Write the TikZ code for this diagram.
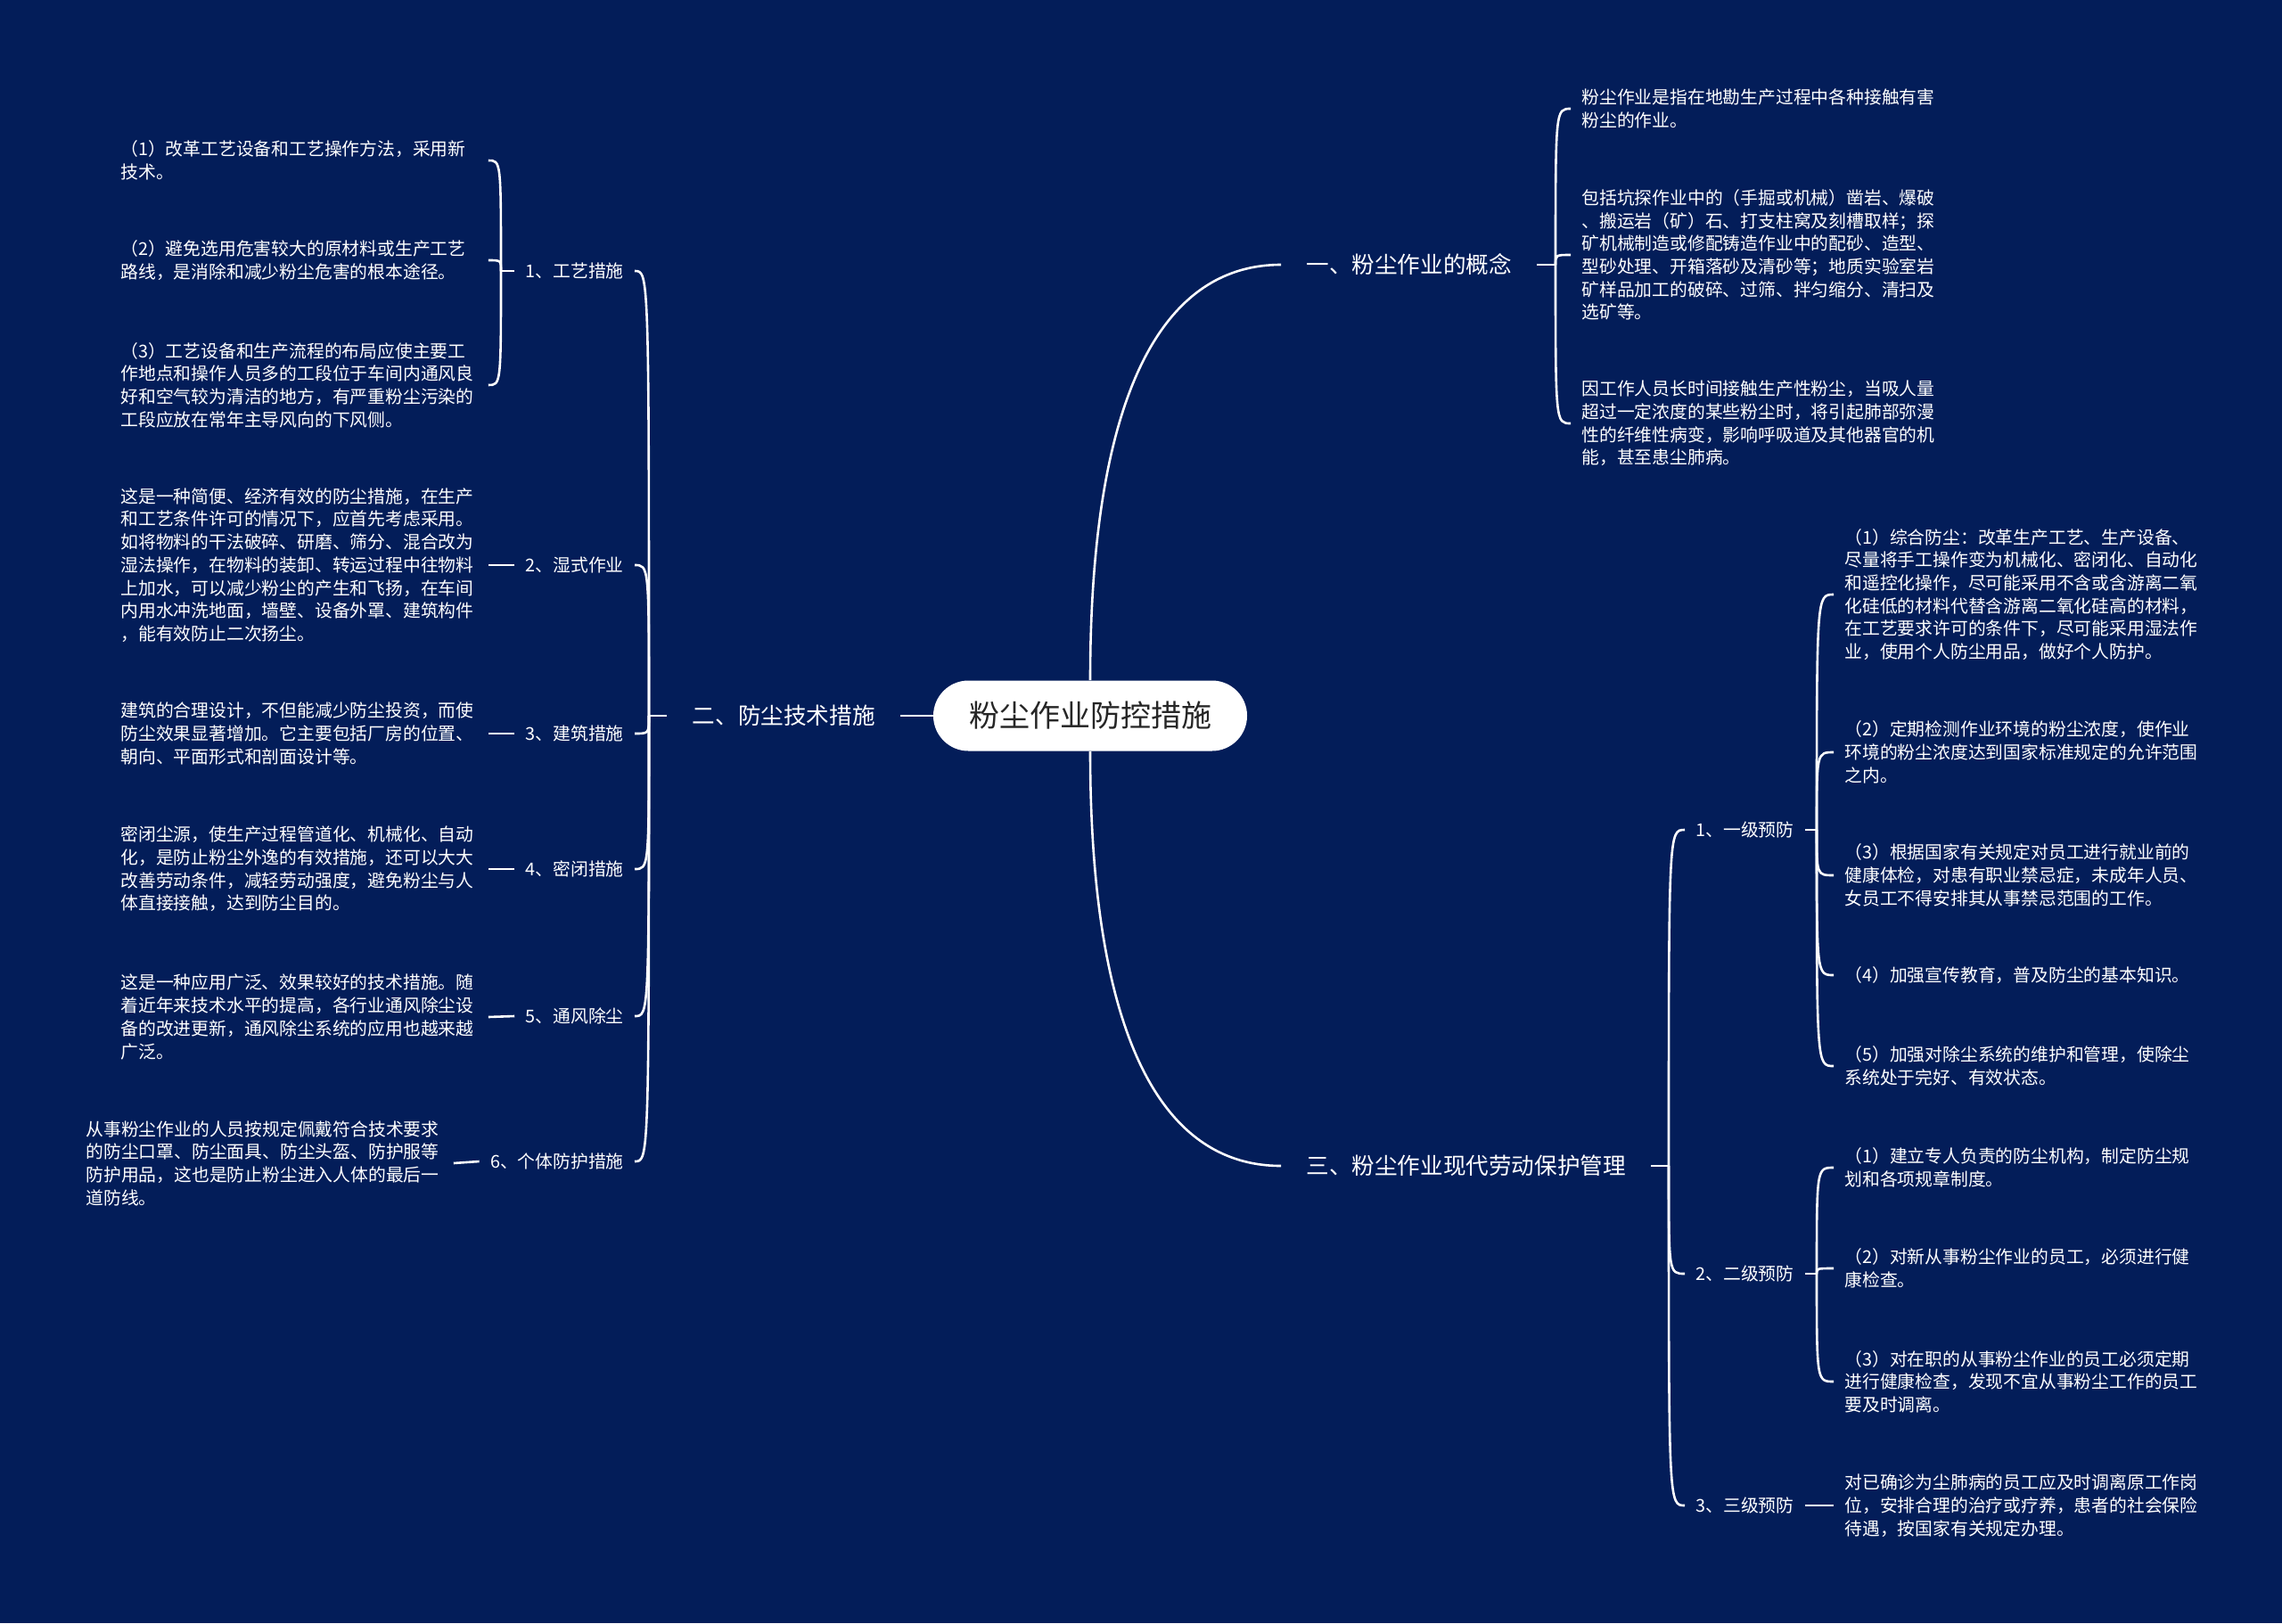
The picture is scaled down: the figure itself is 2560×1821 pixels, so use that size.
\documentclass[tikz,border=0pt]{standalone}
\usepackage{fontspec}
\newfontfamily\cjk{Noto Sans CJK SC}
\definecolor{navy}{HTML}{031D59}
\definecolor{inkgray}{HTML}{262626}
\tikzset{
  root/.style={fill=white, rounded corners=19.7pt, minimum height=39.5pt, inner xsep=20pt, text=inkgray, font=\cjk\fontsize{17pt}{20pt}\selectfont},
  topic/.style={text=white, inner xsep=14pt, font=\cjk\fontsize{12.8pt}{15pt}\selectfont},
  subtopic/.style={text=white, inner xsep=6pt, font=\cjk\fontsize{9.9pt}{12pt}\selectfont},
  detail/.style={text=white, inner xsep=6pt, inner ysep=2pt, text width=200pt, align=left, font=\cjk\fontsize{9.9pt}{12.85pt}\selectfont},
  link/.style={draw=white, line width=1.3pt},
}
\begin{document}
\begin{tikzpicture}[x=0.5pt,y=-0.5pt]
\useasboundingbox (0,0) rectangle (2560,1821);
\fill[navy] (0,0) rectangle (2560,1821);

\node[root] (root) at (1223,803) {粉尘作业防控措施};
\node[topic,anchor=west] (concept) at (1437,297) {一、粉尘作业的概念};
\node[topic,anchor=east] (tech) at (1010,803) {二、防尘技术措施};
\node[topic,anchor=west] (labour) at (1437,1308) {三、粉尘作业现代劳动保护管理};
\draw[link] (root.north) .. controls (1223,450) and (1300,297) .. (concept.west);
\draw[link] (root.south) .. controls (1223,1156) and (1300,1308) .. (labour.west);
\draw[link] (root.west) -- (tech.east);

\coordinate (jtech) at (728,803);
\draw[link] (tech.west) -- (jtech);
\node[subtopic,anchor=east] (craft) at (712,304) {1、工艺措施};
\node[subtopic,anchor=east] (wet) at (712,634) {2、湿式作业};
\node[subtopic,anchor=east] (build) at (712,823) {3、建筑措施};
\node[subtopic,anchor=east] (seal) at (712,975) {4、密闭措施};
\node[subtopic,anchor=east] (vent) at (712,1140) {5、通风除尘};
\node[subtopic,anchor=east] (guard) at (712,1303) {6、个体防护措施};
\draw[link] (jtech) .. controls (jtech |- craft) .. (craft.east);
\draw[link] (jtech) .. controls (jtech |- wet) .. (wet.east);
\draw[link] (jtech) .. controls (jtech |- build) .. (build.east);
\draw[link] (jtech) .. controls (jtech |- seal) .. (seal.east);
\draw[link] (jtech) .. controls (jtech |- vent) .. (vent.east);
\draw[link] (jtech) .. controls (jtech |- guard) .. (guard.east);

\coordinate (jcraft) at (562,304);
\draw[link] (craft.west) -- (jcraft);
\node[detail,anchor=west] (craftA) at (123,180) {（1）改革工艺设备和工艺操作方法，采用新\\技术。};
\node[detail,anchor=west] (craftB) at (123,292) {（2）避免选用危害较大的原材料或生产工艺\\路线，是消除和减少粉尘危害的根本途径。};
\node[detail,anchor=west] (craftC) at (123,432) {（3）工艺设备和生产流程的布局应使主要工\\作地点和操作人员多的工段位于车间内通风良\\好和空气较为清洁的地方，有严重粉尘污染的\\工段应放在常年主导风向的下风侧。};
\draw[link] (jcraft) .. controls (jcraft |- craftA) .. (craftA.east);
\draw[link] (jcraft) .. controls (jcraft |- craftB) .. (craftB.east);
\draw[link] (jcraft) .. controls (jcraft |- craftC) .. (craftC.east);

\node[detail,anchor=west] (wetT) at (123,634) {这是一种简便、经济有效的防尘措施，在生产\\和工艺条件许可的情况下，应首先考虑采用。\\如将物料的干法破碎、研磨、筛分、混合改为\\湿法操作，在物料的装卸、转运过程中往物料\\上加水，可以减少粉尘的产生和飞扬，在车间\\内用水冲洗地面，墙壁、设备外罩、建筑构件\\，能有效防止二次扬尘。};
\node[detail,anchor=west] (buildT) at (123,823) {建筑的合理设计，不但能减少防尘投资，而使\\防尘效果显著增加。它主要包括厂房的位置、\\朝向、平面形式和剖面设计等。};
\node[detail,anchor=west] (sealT) at (123,975) {密闭尘源，使生产过程管道化、机械化、自动\\化，是防止粉尘外逸的有效措施，还可以大大\\改善劳动条件，减轻劳动强度，避免粉尘与人\\体直接接触，达到防尘目的。};
\node[detail,anchor=west] (ventT) at (123,1141) {这是一种应用广泛、效果较好的技术措施。随\\着近年来技术水平的提高，各行业通风除尘设\\备的改进更新，通风除尘系统的应用也越来越\\广泛。};
\node[detail,anchor=west] (guardT) at (84,1305) {从事粉尘作业的人员按规定佩戴符合技术要求\\的防尘口罩、防尘面具、防尘头盔、防护服等\\防护用品，这也是防止粉尘进入人体的最后一\\道防线。};
\draw[link] (wet.west) -- (wetT.east);
\draw[link] (build.west) -- (buildT.east);
\draw[link] (seal.west) -- (sealT.east);
\draw[link] (vent.west) -- (ventT.east);
\draw[link] (guard.west) -- (guardT.east);

\coordinate (jconcept) at (1745,297);
\draw[link] (concept.east) -- (jconcept);
\node[detail,anchor=west] (conceptA) at (1762,122) {粉尘作业是指在地勘生产过程中各种接触有害\\粉尘的作业。};
\node[detail,anchor=west] (conceptB) at (1762,286) {包括坑探作业中的（手掘或机械）凿岩、爆破\\、搬运岩（矿）石、打支柱窝及刻槽取样；探\\矿机械制造或修配铸造作业中的配砂、造型、\\型砂处理、开箱落砂及清砂等；地质实验室岩\\矿样品加工的破碎、过筛、拌匀缩分、清扫及\\选矿等。};
\node[detail,anchor=west] (conceptC) at (1762,475) {因工作人员长时间接触生产性粉尘，当吸人量\\超过一定浓度的某些粉尘时，将引起肺部弥漫\\性的纤维性病变，影响呼吸道及其他器官的机\\能，甚至患尘肺病。};
\draw[link] (jconcept) .. controls (jconcept |- conceptA) .. (conceptA.west);
\draw[link] (jconcept) .. controls (jconcept |- conceptB) .. (conceptB.west);
\draw[link] (jconcept) .. controls (jconcept |- conceptC) .. (conceptC.west);

\coordinate (jlabour) at (1872,1308);
\draw[link] (labour.east) -- (jlabour);
\node[subtopic,anchor=west] (first) at (1890,931) {1、一级预防};
\node[subtopic,anchor=west] (second) at (1890,1429) {2、二级预防};
\node[subtopic,anchor=west] (third) at (1890,1689) {3、三级预防};
\draw[link] (jlabour) .. controls (jlabour |- first) .. (first.west);
\draw[link] (jlabour) .. controls (jlabour |- second) .. (second.west);
\draw[link] (jlabour) .. controls (jlabour |- third) .. (third.west);

\coordinate (jfirst) at (2038,931);
\draw[link] (first.east) -- (jfirst);
\node[detail,anchor=west] (firstA) at (2057,667) {（1）综合防尘：改革生产工艺、生产设备、\\尽量将手工操作变为机械化、密闭化、自动化\\和遥控化操作，尽可能采用不含或含游离二氧\\化硅低的材料代替含游离二氧化硅高的材料，\\在工艺要求许可的条件下，尽可能采用湿法作\\业，使用个人防尘用品，做好个人防护。};
\node[detail,anchor=west] (firstB) at (2057,844) {（2）定期检测作业环境的粉尘浓度，使作业\\环境的粉尘浓度达到国家标准规定的允许范围\\之内。};
\node[detail,anchor=west] (firstC) at (2057,982) {（3）根据国家有关规定对员工进行就业前的\\健康体检，对患有职业禁忌症，未成年人员、\\女员工不得安排其从事禁忌范围的工作。};
\node[detail,anchor=west] (firstD) at (2057,1094) {（4）加强宣传教育，普及防尘的基本知识。};
\node[detail,anchor=west] (firstE) at (2057,1196) {（5）加强对除尘系统的维护和管理，使除尘\\系统处于完好、有效状态。};
\draw[link] (jfirst) .. controls (jfirst |- firstA) .. (firstA.west);
\draw[link] (jfirst) .. controls (jfirst |- firstB) .. (firstB.west);
\draw[link] (jfirst) .. controls (jfirst |- firstC) .. (firstC.west);
\draw[link] (jfirst) .. controls (jfirst |- firstD) .. (firstD.west);
\draw[link] (jfirst) .. controls (jfirst |- firstE) .. (firstE.west);

\coordinate (jsecond) at (2038,1429);
\draw[link] (second.east) -- (jsecond);
\node[detail,anchor=west] (secondA) at (2057,1310) {（1）建立专人负责的防尘机构，制定防尘规\\划和各项规章制度。};
\node[detail,anchor=west] (secondB) at (2057,1423) {（2）对新从事粉尘作业的员工，必须进行健\\康检查。};
\node[detail,anchor=west] (secondC) at (2057,1550) {（3）对在职的从事粉尘作业的员工必须定期\\进行健康检查，发现不宜从事粉尘工作的员工\\要及时调离。};
\draw[link] (jsecond) .. controls (jsecond |- secondA) .. (secondA.west);
\draw[link] (jsecond) .. controls (jsecond |- secondB) .. (secondB.west);
\draw[link] (jsecond) .. controls (jsecond |- secondC) .. (secondC.west);

\node[detail,anchor=west] (thirdT) at (2057,1689) {对已确诊为尘肺病的员工应及时调离原工作岗\\位，安排合理的治疗或疗养，患者的社会保险\\待遇，按国家有关规定办理。};
\draw[link] (third.east) -- (thirdT.west);
\end{tikzpicture}
\end{document}
